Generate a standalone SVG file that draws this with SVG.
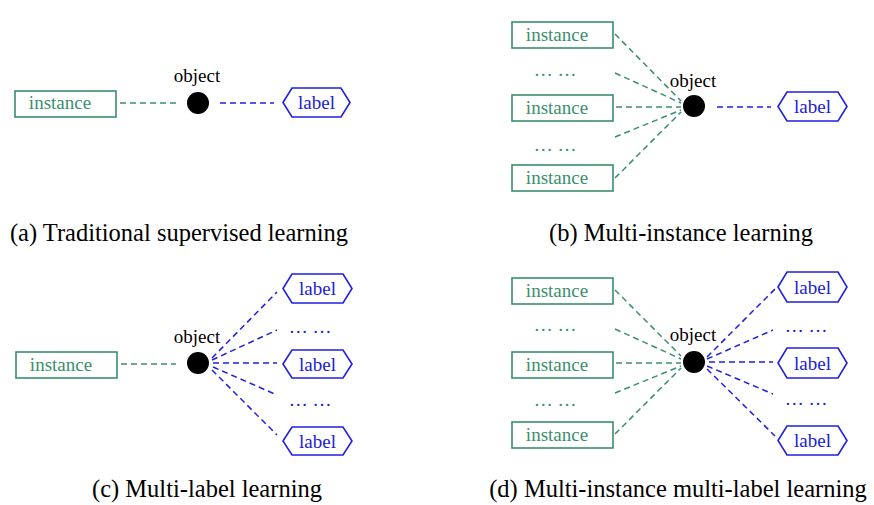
<svg xmlns="http://www.w3.org/2000/svg" width="874" height="505" viewBox="0 0 874 505">
<style>
.bg{fill:#ffffff}
.inst{fill:#ffffff;stroke:#3a8f6c;stroke-width:1.6}
.lab{fill:#ffffff;stroke:#2020e0;stroke-width:1.6}
.it{font-family:"Liberation Serif","Times New Roman",serif;font-size:19px;fill:#3a8f6c;text-anchor:middle}
.lt{font-family:"Liberation Serif","Times New Roman",serif;font-size:19px;fill:#1c1cd6;text-anchor:middle}
.ot{font-family:"Liberation Serif","Times New Roman",serif;font-size:19px;fill:#000000;text-anchor:middle}
.cap{font-family:"Liberation Serif","Times New Roman",serif;font-size:24.5px;fill:#000000;text-anchor:middle}
.g{stroke:#3a8f6c;stroke-width:1.5;stroke-dasharray:6 4;fill:none}
.b{stroke:#2020e0;stroke-width:1.5;stroke-dasharray:6 4;fill:none}
.obj{fill:#000000}
</style>
<rect class="bg" x="0" y="0" width="874" height="505"/>

<g id="connectors">
  <!-- (a) -->
  <line class="g" x1="120" y1="103" x2="176" y2="103"/>
  <line class="b" x1="220" y1="103" x2="274" y2="103"/>
  <!-- (b) -->
  <line class="g" x1="615" y1="34" x2="681" y2="101"/>
  <line class="g" x1="615" y1="73" x2="681" y2="103"/>
  <line class="g" x1="616" y1="107" x2="681" y2="107"/>
  <line class="g" x1="615" y1="137" x2="681" y2="110"/>
  <line class="g" x1="615" y1="178" x2="681" y2="112"/>
  <line class="b" x1="717" y1="107" x2="771" y2="107"/>
  <!-- (c) -->
  <line class="g" x1="121" y1="364" x2="176" y2="364"/>
  <line class="b" x1="212" y1="358" x2="277" y2="292"/>
  <line class="b" x1="212" y1="360" x2="277" y2="330"/>
  <line class="b" x1="213" y1="363" x2="277" y2="363"/>
  <line class="b" x1="213" y1="367" x2="277" y2="395"/>
  <line class="b" x1="212" y1="370" x2="277" y2="435"/>
  <!-- (d) -->
  <line class="g" x1="615" y1="290" x2="681" y2="356"/>
  <line class="g" x1="615" y1="329" x2="681" y2="359"/>
  <line class="g" x1="616" y1="363" x2="681" y2="363"/>
  <line class="g" x1="615" y1="393" x2="681" y2="366"/>
  <line class="g" x1="615" y1="434" x2="681" y2="368"/>
  <line class="b" x1="707" y1="357" x2="775" y2="289"/>
  <line class="b" x1="707" y1="359" x2="773" y2="330"/>
  <line class="b" x1="709" y1="362" x2="773" y2="362"/>
  <line class="b" x1="707" y1="366" x2="773" y2="394"/>
  <line class="b" x1="707" y1="369" x2="775" y2="436"/>
</g>

<!-- Panel (a) -->
<g id="a-instance"><rect class="inst" x="15" y="91" width="101" height="26"/><text class="it" x="60" y="109">instance</text></g>
<g id="a-object"><circle class="obj" cx="198" cy="103" r="11"/><text class="ot" x="197" y="82">object</text></g>
<g id="a-label"><polygon class="lab" points="283,102.5 292,88 341,88 350,102.5 341,117 292,117"/><text class="lt" x="316.5" y="109">label</text></g>
<text class="cap" x="179" y="241">(a) Traditional supervised learning</text>

<!-- Panel (b) -->
<g id="b-instance1"><rect class="inst" x="512" y="22" width="101" height="26"/><text class="it" x="557" y="41">instance</text></g>
<g id="b-dots1"><text class="it" x="555" y="76">… …</text></g>
<g id="b-instance2"><rect class="inst" x="512" y="95" width="101" height="26"/><text class="it" x="557" y="114">instance</text></g>
<g id="b-dots2"><text class="it" x="555" y="151">… …</text></g>
<g id="b-instance3"><rect class="inst" x="512" y="165" width="101" height="26"/><text class="it" x="557" y="184">instance</text></g>
<g id="b-object"><circle class="obj" cx="694" cy="106" r="11"/><text class="ot" x="693" y="87">object</text></g>
<g id="b-label"><polygon class="lab" points="778,106.5 787,92 838,92 847,106.5 838,121 787,121"/><text class="lt" x="812.5" y="113">label</text></g>
<text class="cap" x="681" y="241">(b) Multi-instance learning</text>

<!-- Panel (c) -->
<g id="c-instance"><rect class="inst" x="16" y="352" width="101" height="26"/><text class="it" x="61" y="371">instance</text></g>
<g id="c-object"><circle class="obj" cx="198" cy="363" r="11"/><text class="ot" x="197" y="343">object</text></g>
<g id="c-label1"><polygon class="lab" points="283,288.5 292,274 343,274 352,288.5 343,303 292,303"/><text class="lt" x="317.5" y="295">label</text></g>
<g id="c-dots1"><text class="lt" x="310" y="333">… …</text></g>
<g id="c-label2"><polygon class="lab" points="283,364 292,350 343,350 352,364 343,378 292,378"/><text class="lt" x="317.5" y="370.5">label</text></g>
<g id="c-dots2"><text class="lt" x="310" y="406">… …</text></g>
<g id="c-label3"><polygon class="lab" points="283,441 292,427 343,427 352,441 343,455 292,455"/><text class="lt" x="317.5" y="447.5">label</text></g>
<text class="cap" x="207" y="497">(c) Multi-label learning</text>

<!-- Panel (d) -->
<g id="d-instance1"><rect class="inst" x="512" y="278" width="101" height="26"/><text class="it" x="557" y="297">instance</text></g>
<g id="d-dots1"><text class="it" x="555" y="331">… …</text></g>
<g id="d-instance2"><rect class="inst" x="512" y="352" width="101" height="26"/><text class="it" x="557" y="371">instance</text></g>
<g id="d-dots2"><text class="it" x="555" y="406">… …</text></g>
<g id="d-instance3"><rect class="inst" x="512" y="422" width="101" height="26"/><text class="it" x="557" y="441">instance</text></g>
<g id="d-object"><circle class="obj" cx="694" cy="362" r="11"/><text class="ot" x="693" y="341">object</text></g>
<g id="d-label1"><polygon class="lab" points="778,287 787,272 838,272 847,287 838,302 787,302"/><text class="lt" x="812.5" y="294">label</text></g>
<g id="d-dots3"><text class="lt" x="806" y="332">… …</text></g>
<g id="d-label2"><polygon class="lab" points="778,363 787,348 838,348 847,363 838,378 787,378"/><text class="lt" x="812.5" y="370">label</text></g>
<g id="d-dots4"><text class="lt" x="806" y="405">… …</text></g>
<g id="d-label3"><polygon class="lab" points="778,440.5 787,426 838,426 847,440.5 838,455 787,455"/><text class="lt" x="812.5" y="447">label</text></g>
<text class="cap" x="678" y="497">(d) Multi-instance multi-label learning</text>
</svg>
